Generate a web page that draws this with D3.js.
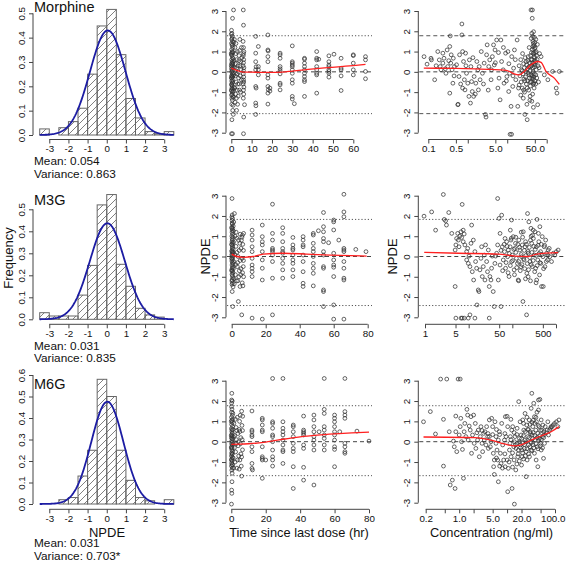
<!DOCTYPE html>
<html><head><meta charset="utf-8">
<script src="https://cdn.jsdelivr.net/npm/d3@7"></script>
<style>
body{margin:0;background:#fff}
svg{display:block}
text{font-family:"Liberation Sans",Arial,Helvetica,sans-serif;fill:#111}
</style>
</head><body><script>
// ---------------- DATA ----------------
const binEdges = [-3.5,-3,-2.5,-2,-1.5,-1,-0.5,0,0.5,1,1.5,2,2.5,3,3.5];
const morphHist = [0.025,0,0.03,0.055,0.11,0.25,0.448,0.516,0.33,0.15,0.07,0.014,0.005,0.014];
const m3gHist   = [0.03,0.015,0.015,0.015,0.11,0.245,0.52,0.567,0.25,0.15,0.05,0.02,0.01,0];
const m6gHist   = [0,0,0.02,0.03,0.13,0.25,0.58,0.50,0.25,0.11,0.03,0.015,0,0.02];
const drugNames = ["Morphine","M3G","M6G"];
const meanVals = [0.054,0.031,0.031];
const varVals  = [0.863,0.835,0.703];
const varLabels = ["Variance: 0.863","Variance: 0.835","Variance: 0.703*"];
const meanLabels = ["Mean: 0.054","Mean: 0.031","Mean: 0.031"];
const histXTicks = [-3,-2,-1,0,1,2,3];
const histYTicks = [[0,0.1,0.2,0.3,0.4,0.5],[0,0.1,0.2,0.3,0.4,0.5],[0,0.1,0.2,0.3,0.4,0.5,0.6]];
const npdeTicks = [-3,-2,-1,0,1,2,3];
const timeTicks = [[0,10,20,30,40,50,60],[0,20,40,60,80],[0,20,40,60,80]];
const concTicks = [[0.1,0.5,1,5,10,50,100],[1,5,10,50,100,500,1000],[0.2,0.5,1,2,5,10,20,50,100]];
const concTickLabels = [{0.1:"0.1",0.5:"0.5",5:"5.0",50:"50.0"},{1:"1",5:"5",50:"50",500:"500"},{0.2:"0.2",1:"1.0",5:"5.0",20:"20.0",100:"100.0"}];
const refBounds = [[1.78,-2.06],[1.83,-2.42],[1.77,-1.67]];

const morphTime = [
[0.1,2.05],[0.3,1.9],[0.5,1.75],[0.2,1.6],[0.6,1.5],[0.1,1.4],[0.4,1.3],[0.7,1.2],[0.2,1.1],[0.5,1.0],[0.8,0.95],[0.1,0.85],[0.3,0.8],[0.6,0.7],[0.9,0.65],[0.2,0.6],[0.4,0.5],[0.7,0.45],[0.1,0.4],[0.5,0.35],[0.3,0.25],[0.8,0.2],[0.1,0.15],[0.6,0.1],[0.4,0.05],[0.2,0.0],[0.9,-0.05],[0.5,-0.1],[0.1,-0.2],[0.7,-0.25],[0.3,-0.3],[0.6,-0.4],[0.2,-0.45],[0.8,-0.5],[0.4,-0.55],[0.1,-0.65],[0.5,-0.7],[0.3,-0.8],[0.7,-0.85],[0.2,-0.95],[0.6,-1.0],[0.4,-1.1],[0.1,-1.15],[0.8,-1.2],[0.3,-1.3],[0.5,-1.4],[0.2,-1.6],[0.9,-1.65],[0.6,2.64],[1.1,3.05],[0.1,-3.05],[0.6,-3.05],[0.3,-2.36],[1.0,-2.1],[0.7,-1.9],[0.0,1.85],[0.0,0.9],[0.0,0.3],[0.0,-0.3],[0.0,-0.9],[1.2,1.45],[1.3,0.55],[1.2,-0.15],[1.4,-0.75],[1.1,-1.25],[0.4,1.65],[0.6,1.35],[0.3,0.95],[0.8,0.4],[0.5,-0.2],[0.2,-0.6],[0.9,-0.95],
[1.8,1.2],[2.2,0.9],[2.6,0.6],[3.0,1.0],[3.3,0.3],[3.8,0.8],[4.2,1.6],[4.6,0.5],[5.0,1.2],[1.6,0.2],[2.0,-0.2],[2.4,-0.5],[2.8,-0.1],[3.2,-0.6],[3.6,-0.3],[4.0,-0.9],[4.4,-0.2],[4.8,0.1],[1.7,-0.8],[2.1,-1.1],[2.5,-1.3],[2.9,-0.9],[3.4,-1.2],[3.9,-0.6],[4.5,-1.0],[2.0,0.4],[2.7,0.2],[3.5,0.0],[4.3,0.3],[5.0,-0.4],[1.5,1.6],[2.3,1.4],[3.1,-1.6],[4.1,1.05],[5.2,0.7],[1.9,-1.5],[3.7,0.55],[2.6,-1.9],
[5.9,3.05],[6.0,2.3],[6.1,-2.23],[6.0,-3.05],[6.5,-1.62],[5.8,1.5],[6.0,1.2],[6.2,1.0],[5.9,0.8],[6.1,0.6],[6.0,0.45],[5.8,0.3],[6.2,0.2],[6.0,0.05],[5.9,-0.1],[6.1,-0.25],[6.0,-0.4],[5.8,-0.6],[6.2,-0.75],[6.0,-0.9],[6.1,-1.1],[5.9,-1.3],[6.0,0.9],[6.1,-0.5],
[12,1.75],[12,0.92],[12,0.5],[12.2,0.25],[12,0.1],[12,-0.72],[12.2,-0.8],[12,-1.54],[12.1,-1.67],[12,-2.1],[13.3,1.25],[13.3,0.26],[13.3,0.1],[13.3,-0.15],
[18,1.82],[18,1.08],[18.1,1.03],[18,0.75],[18,0.5],[18,-0.15],[18,-0.31],[18,-0.72],[18.2,-0.88],[18,-1.05],[18,-1.59],[19,-0.8],[19,-0.95],
[24,0.92],[24,0.84],[24,0.67],[24,0.26],[24,0.15],[24,0.05],[24,-0.1],[24,-0.56],[24,-0.64],[24,-0.89],
[30,1.28],[30,0.5],[30,0.43],[30,0.34],[30,0.26],[30,0.1],[30,-0.07],[30,-0.39],[30,-0.56],[30,-1.21],[30,-1.34],[31,-1.57],
[36,0.67],[36,0.62],[36,0.43],[36,0.26],[36,0.1],[36,-0.07],[36,-0.23],[36,-0.39],[36,-0.48],[36,-1.21],
[42,1.0],[42,0.67],[42,0.59],[42,0.26],[42,0.1],[42,-0.07],[42,-0.15],[42,-1.05],[43,0.62],
[48,0.79],[48,0.5],[48,0.34],[48,0.26],[48,0.1],[48,0.02],[48,-0.07],[48,-0.26],[50.5,0.87],
[54,0.67],[54,0.18],[54,0.1],[54,-0.2],[54,-0.92],
[60,0.84],[60,0.8],[60,0.43],[60,0.1],[60,-0.15],
[66,0.75],[66,0.59],[66,0.02],[66,-0.34]
];
const morphTimeLoess = [[0,0.18],[2,0.1],[4,0.03],[6,-0.01],[12,-0.02],[20,-0.03],[25,-0.01],[30,0.04],[36,0.1],[42,0.16],[48,0.21],[54,0.26],[60,0.31],[66,0.37]];

const morphConc = [
[0.078,0.75],[0.093,0.38],[0.117,0.67],[0.12,0.59],[0.145,-0.39],[0.158,0.3],[0.174,1.0],[0.19,0.59],[0.2,0.26],[0.21,0.1],[0.234,0.92],[0.234,0.43],[0.25,0.67],[0.28,-0.07],[0.3,1.08],[0.31,0.26],[0.35,1.25],[0.35,-1.05],[0.36,1.77],[0.37,0.43],[0.38,0.84],[0.4,0.1],[0.42,-0.56],[0.43,0.67],[0.46,0.26],[0.56,-1.62],[0.57,-1.6],[0.6,-0.23],[0.62,0.84],[0.71,2.36],[0.71,1.82],[0.74,1.0],[0.74,-0.8],[0.78,0.51],[0.82,-0.39],[0.85,-0.89],[0.88,0.92],[0.93,-0.07],[1.0,-0.56],[1.07,-1.21],[1.1,0.59],[1.17,-1.54],[1.2,0.26],[1.25,-0.48],[1.3,-0.97],[1.41,-1.21],[1.45,-0.23],[1.6,-0.56],[1.7,0.51],[1.8,0.1],[1.86,-0.89],[1.95,0.26],[2.05,-0.39],[2.2,1.0],[2.35,-0.07],[2.6,0.43],[2.8,-2.1],[2.9,-2.23],[3.0,0.84],[3.1,1.33],[3.4,0.26],[3.6,0.59],[3.9,-0.39],[4.2,0.75],[4.5,1.33],[4.7,0.34],[4.9,1.08],[5.4,1.57],[5.8,-0.8],[6.2,-0.31],[6.6,-1.38],[6.9,1.57],[7.2,0.51],[7.9,0.1],[8.3,-0.56],[9.1,0.92],[9.8,-0.23],[10.4,1.0],[10.9,-0.97],[11.5,-0.07],[11.8,-3.08],[12.9,-3.08],[12.5,-1.7],[13.0,0.75],[13.8,-0.72],[14.5,0.18],[15.2,1.08],[16.5,-0.39],[17.8,1.57],[18.5,-1.7],[19.3,-0.8],
[0.27,0.15],[0.33,0.55],[0.45,-0.2],[0.52,0.35],[0.66,-0.6],[0.9,0.3],[1.35,0.7],[1.55,-1.1],[2.5,-0.6],[3.3,-0.9],[4.0,0.1],[5.0,0.45],[6.0,0.95],[8.0,1.2],[9.5,-0.45],[11,0.4],[14,-0.2],[16,0.6],
[20,0.3],[21,-0.2],[22,0.6],[22.5,-0.5],[23,0.1],[24,-0.8],[24.5,0.9],[25,-0.1],[25.5,-1.3],[26,0.4],[26.5,-0.35],[27,0.2],[27.5,-1.0],[28,-2.1],[28.5,0.7],[29,-0.25],[30,0.0],[30.5,-0.6],[31,0.35],[31.5,-1.6],[32,-2.36],[32.5,0.15],[33,-0.45],[33.5,0.55],[34,-0.05],[35,-0.9],[35.5,0.25],[36,1.2],[36.5,-0.3],[37,0.45],[37.5,-1.4],[38,0.05],[38.5,-0.7],[39,0.8],[40,-0.15],[40.5,1.65],[41,0.3],[41.5,-0.5],[42,1.9],[42.5,0.6],[43,-0.2],[43.5,1.1],[44,-1.1],[44.5,0.2],[45,1.5],[45.5,-0.35],[46,0.9],[46.5,1.98],[47,0.4],[40,3.05],[48,1.3],[48.5,-0.1],[49,1.7],[49.5,0.7],[50,1.45],[43,2.64],[51,1.2],[43.5,3.05],[52,0.95],[52.5,-0.6],[53,1.6],[53.5,0.5],[54,1.0],[54.5,0.1],[55,0.8],[56,-0.3],[57,0.6],[58,1.35],[59,-1.62],[60,0.3],[62,-0.5],[64,0.2],[66,0.9],
[44,1.75],[45,1.25],[46,1.4],[47,0.95],[48,0.75],[49,1.15],[50,0.55],[45,0.0],[46,-0.6],[47,-0.25],[48,-0.8],[49,0.25],[50,-0.45],[36,-0.15],[38,-0.5],[40,0.6],[42,-0.3],[34,0.75],[32,-0.8],[30,0.5],[28,-0.45],[26,-0.9],[24,0.05],[22,-1.15],[20,-0.65],[38,-1.2],[42,-1.45],[46,-1.75],[51,0.35],[53,-0.15],[44,0.45],[47,-0.55],[41,0.95],[39,0.25],
[72,0.75],[87,-0.15],[107,-0.39],[141,0.02],[174,-0.8],[182,-1.05],[209,0.02]
];
const morphConcLoess = [[0.077,0.18],[0.5,0.17],[1.5,0.15],[4,0.12],[8.5,0.08],[12,0.0],[15,-0.1],[20,-0.15],[27,0.02],[40,0.35],[59,0.51],[72,0.47],[96,0.02],[158,-0.32],[209,-0.62]];

const m3gTime = [
[0.2,2.86],[0.3,2.05],[0.1,1.95],[0.5,1.88],[0.2,1.78],[0.4,1.6],[0.1,1.45],[0.6,1.38],[0.3,1.3],[0.2,1.2],[0.5,1.1],[0.1,1.0],[0.7,0.95],[0.3,0.88],[0.4,0.8],[0.2,0.72],[0.6,0.65],[0.1,0.58],[0.5,0.5],[0.3,0.42],[0.8,0.36],[0.2,0.3],[0.4,0.22],[0.6,0.15],[0.1,0.1],[0.3,0.04],[0.7,-0.02],[0.2,-0.08],[0.5,-0.15],[0.1,-0.22],[0.4,-0.3],[0.8,-0.36],[0.2,-0.42],[0.6,-0.5],[0.3,-0.58],[0.1,-0.66],[0.5,-0.72],[0.7,-0.8],[0.2,-0.88],[0.4,-0.95],[0.6,-1.05],[0.3,-1.15],[0.1,-1.2],[0.5,-1.3],[0.2,-1.38],[0.3,-1.73],[0.6,-2.47],[1.6,2.12],[1.2,1.7],[1.0,1.25],[1.1,0.7],[0.9,0.2],[1.2,-0.25],[1.0,-0.6],[1.3,-1.1],[0.9,1.5],[0.8,-1.5],[0.0,1.4],[0.0,0.6],[0.0,-0.1],[0.0,-0.7],[0.0,0.25],[0.3,1.65],
[2,1.0],[2.5,0.5],[3,0.2],[3.5,-0.3],[4,0.8],[4.5,-0.7],[5,1.1],[5.5,0.4],[6,-0.1],[6.5,0.6],[7,1.14],[2.2,-0.9],[2.8,-1.2],[3.3,-0.5],[3.9,-2.22],[4.2,-1.0],[4.9,-1.48],[5.3,-0.9],[5.9,-2.88],[6.2,-1.3],[6.8,-0.5],[1.8,0.1],[2.4,-0.4],[3.1,0.9],[3.7,0.0],[4.4,0.3],[5.0,-0.2],[5.7,0.8],[6.3,1.05],[6.9,-0.2],[6.6,-1.45],[6.9,0.3],[1.5,-1.35],[2.6,1.2],[4.8,0.65],[5.5,-0.6],[6.0,0.95],[3.6,-1.2],[6.4,-0.8],[7,-1.0],
[12,1.3],[12,1.06],[12,0.81],[12,0.48],[12,0.24],[12,-0.09],[12,-0.42],[12,-0.58],[12,-0.75],[12,-0.99],[12,-3.04],
[18,1.55],[18,0.98],[18,0.73],[18,0.57],[18,0.24],[18,-0.17],[18,-0.58],[18,-1.16],[18,-3.09],
[24,2.58],[24,1.14],[24,0.81],[24,0.4],[24,0.32],[24,0.24],[24,0.07],[24,-0.25],[24,-1.07],[24,-2.88],
[30,1.42],[30,1.14],[30,0.73],[30,0.4],[30,0.24],[30,0.16],[30,-0.09],[30,-0.34],[30,-0.66],[30,-1.07],
[36,0.94],[36,0.57],[36,0.4],[36,0.32],[36,0.07],[36,-0.17],[36,-0.34],[36,-0.66],[36,-0.99],
[42,0.98],[42,0.81],[42,0.57],[42,0.48],[42,0.07],[42,-0.25],[42,-0.75],[42,-1.32],[42,-1.48],
[48,1.14],[48,1.06],[48,0.65],[48,0.4],[48,0.24],[48,0],[48,-0.34],[48,-0.58],[48,-0.83],[48,-1.45],[51,1.27],
[54,2.17],[54,1.47],[54,1.22],[54,0.89],[54,0.73],[54,0.24],[54,0.07],[54,-0.5],[54,-0.58],[54,-1.65],[54,-1.73],[54,-2.47],[57,0.68],
[60,1.8],[60,1.71],[60,1.31],[60,0.16],[60,-0.17],[60,-0.42],[60,-0.53],[60,-0.99],[60,-2.39],[60,-3.09],[63,0.81],
[66,3.07],[66,2.2],[66,1.96],[66,0.4],[66,0.32],[66,0.24],[66,-0.25],[66,-0.58],[66,-1.07],[66,-1.16],[66,-3.09],
[73,0.35],[79,0.24]
];
const m3gTimeLoess = [[0,0.12],[3,0.0],[7,-0.04],[12.7,0.0],[18.6,0.12],[30,0.16],[44,0.12],[58,0.07],[79.4,0.02]];

const m3gConc = [
[0.95,1.99],[1.42,2.2],[1.75,1.3],[2.63,3.06],[2.77,1.83],[2.97,1.76],[3.1,1.55],[3.5,2.17],[4.1,1.14],[4.9,-1.48],[4.9,0.32],[5.1,0.57],[5.3,0.89],[5.6,1.14],[5.8,0.81],[6.0,0.48],[6.3,1.01],[6.7,1.22],[6.9,0.94],[7.1,2.57],[7.5,1.3],[7.5,0.73],[7.9,1.11],[8.2,0.57],[9.0,0.24],[9.0,-0.17],[9.5,0.4],[9.8,-0.34],[10.2,0.02],[10.7,-0.5],[11.3,0.65],[11.7,1.55],[12.1,-0.75],[12.8,0.81],[13,-1.16],[13.9,0.24],[14.4,-0.25],[15.2,-0.58],[15.5,-2.39],[16.6,-1.65],[17.2,-1.73],[18.1,-0.66],[19.1,-0.09],[19.8,0.48],[20.5,-0.99],[21.6,-0.5],[22.8,0.07],[23.6,-1.16],[24.4,0.57],[25.8,-0.25],[27,-0.75],[28.2,0.32],[29.6,-1.48],[30.7,-0.99],[32.4,-1.16],[33.5,-0.58],[34.7,0.02],[36.5,-1.73],[38.5,-2.47],[39.9,-0.34],[41.4,0.02],[43.7,0.16],[46.1,2.86],[46.1,0.57],[47.8,-1.16],[49.6,1.88],[52.3,1.14],[52.3,-0.42],[55,-2.47],[57,2.04],[59,0.48],[62,-0.17],[66,0.24],[68,0.89],[70,-0.58],[74,0.73],[78,-0.01],[81,0.32],[84,-0.99],[89,0.48],[93,0.81],[96,1.8],[96,-0.25],[100,0.07],[105,0.98],[110,-0.66],[114,0.4],[118,0.65],[124,-0.09],[131,-0.34],[136,-1.16],[141,0.81],[149,0.32],[157,-0.5],[163,-0.01],[169,0.57],[175,-2.22],[178,1.22],[185,-0.17],[195,0.48],[201,0.73],[212,-2.88],[215,-0.83],[223,2.12],[231,0.16],[239,1.71],[253,-0.25],[267,1.39],[277,0.65],[287,-0.5],[303,0.89],[318,0.07],[330,1.22],[342,-0.58],[355,0.48],[361,-1.16],[368,1.83],[382,-0.17],[396,1.14],[404,0.73],[420,-0.91],[427,1.47],[443,0.24],[450,-0.34],[466,-1.48],[484,0.98],[502,-0.01],[510,-1.48],[537,0.48],[558,-0.5],[580,0.81],[610,0.16],[640,-0.17],[660,0.32],[720,-0.01],[790,-0.25],[870,0.16],[940,0.07],[1020,0.24],[1120,0.32],
[5.1,-3.04],[6.7,-3.04],[7.1,-3.04],[7.9,-3.04],[9.8,-3.04],[13.9,-3.04],[29.6,-3.04],[10.7,-2.88],
[55,0.3],[60,-0.7],[65,0.6],[72,-0.3],[76,0.5],[80,-0.8],[85,0.15],[90,-0.45],[95,0.9],[102,-0.2],[108,0.35],[112,-0.9],[120,0.2],[126,-0.55],[133,0.6],[140,-0.25],[146,0.45],[152,-0.7],[160,0.1],[166,-0.4],[172,0.95],[180,-0.1],[188,0.3],[192,-0.6],[205,0.05],[210,0.6],[220,-0.35],[228,0.25],[235,-0.65],[245,0.45],[250,-0.05],[260,0.8],[270,-0.4],[280,0.2],[290,1.05],[300,-0.2],[310,0.5],[325,-0.75],[335,0.35],[350,0.05],[370,-0.45],[390,0.55],[410,0.15],[430,-0.3],[460,0.6],[480,0.1],[520,-0.6],[550,0.55],[600,-0.25],[650,0.05],[700,0.4],[230,-1.0],[260,-1.2],[300,1.3],[200,-1.1],[160,1.2],[350,-1.3],[140,-1.2],[120,0.95],[90,1.3],[270,1.0]
];
const m3gConcLoess = [[0.96,0.2],[5.8,0.16],[48,0.12],[115,0.02],[230,0.0],[360,0.12],[1120,0.19]];

const m6gTime = [
[0.3,2.38],[0.2,2.05],[0.5,2.0],[0.1,1.72],[0.4,1.6],[0.2,1.45],[0.6,1.3],[0.1,1.2],[0.3,1.05],[0.5,0.95],[0.2,0.85],[0.7,0.75],[0.1,0.65],[0.4,0.58],[0.3,0.5],[0.6,0.42],[0.2,0.35],[0.5,0.28],[0.1,0.2],[0.8,0.12],[0.3,0.05],[0.4,-0.02],[0.2,-0.1],[0.6,-0.18],[0.1,-0.25],[0.5,-0.32],[0.3,-0.4],[0.7,-0.48],[0.2,-0.55],[0.4,-0.62],[0.1,-0.7],[0.6,-0.78],[0.3,-0.85],[0.5,-0.95],[0.2,-1.05],[0.4,-1.12],[0.1,-1.2],[0.6,-1.3],[0.3,-1.4],[0.5,-1.55],[0.4,-1.97],[0.2,-2.38],[0.3,-2.54],[0.1,-3.07],[0.0,1.0],[0.0,0.3],[0.0,-0.3],[0.0,-0.9],[0.9,0.6],[1.0,-0.1],[1.1,-0.8],[0.9,1.4],[1.2,0.25],[0.8,-1.15],[0.2,1.9],[0.7,1.1],[0.4,0.15],[0.6,-0.6],
[1.5,0.9],[2,0.3],[2.5,-0.5],[3,0.1],[3.5,1.2],[4,-0.2],[4.5,0.6],[5,-0.9],[5.5,0.2],[6,1.5],[6.5,-0.4],[2.2,-1.0],[2.8,0.7],[3.3,-1.3],[3.8,0.4],[4.3,-0.7],[4.8,1.0],[5.3,-0.1],[5.8,-1.2],[6.2,0.8],[6.0,-1.69],[1.8,-0.3],[2.4,1.1],[3.6,-0.9],[4.1,0.0],[5.0,0.5],[5.6,-0.6],[6.3,0.1],[6.6,1.25],[1.3,-1.3],[2.9,-0.1],[4.6,-1.35],[6.0,-0.75],[6.5,0.55],[3.2,0.55],[5.2,1.3],
[12,1.51],[12,0.57],[12,0.49],[12,0.33],[12,0.25],[12,-0.25],[12,-0.49],[12,-1.07],[12,-1.31],[12.3,-1.39],
[18,1.15],[18,1.07],[18,0.82],[18,0.57],[18,0.49],[18,-0.25],[18,-0.74],[18,-0.82],[18,-0.9],[18,-1.8],[20,-0.9],
[24,3.11],[24,0.98],[24,0.9],[24,0.66],[24,0.33],[24,0.25],[24,0],[24,-0.41],[24,-0.74],[24,-0.9],[24,-1.2],
[30,3.11],[30,0.98],[30,0.66],[30,0.49],[30,0.33],[30,0.08],[30,-0.16],[30,-0.41],[30,-0.49],[30,-1.07],
[36,0.82],[36,0.74],[36,0.49],[36,0.25],[36,-0.08],[36,-0.33],[36,-0.49],[36,-1.23],[36,-2.3],
[42,1.26],[42,0.57],[42,0.49],[42,0.41],[42,0.33],[42,-0.16],[42,-0.33],[42,-1.26],[42,-1.89],
[48,1.31],[48,1.07],[48,0.74],[48,0.49],[48,0.25],[48,0.08],[48,-0.16],[48,-0.41],[48,-2.13],[51,0.49],
[54,3.11],[54,1.59],[54,1.39],[54,0.74],[54,0.57],[54,0.33],[54,0.16],[54,-0.16],[54,-0.41],
[60,1.31],[60,1.15],[60,0.98],[60,0.74],[60,0.49],[60,0.33],[60,0.08],[60,-0.25],[60,-0.38],[60,-1.23],[63,0.49],
[66,3.11],[66,1.48],[66,1.31],[66,1.15],[66,-0.08],[66,-0.25],[66,-0.49],[66,-0.57],
[73,0.52],[80,0.03]
];
const m6gTimeLoess = [[0,-0.13],[5,-0.12],[10,-0.1],[15,-0.07],[20,-0.02],[25,0.05],[30,0.12],[40,0.24],[50,0.32],[60,0.38],[70,0.43],[80,0.47]];

const m6gConc = [
[0.18,0.98],[0.25,1.48],[0.32,0.38],[0.41,3.08],[0.47,1.1],[0.47,-1.2],[0.55,3.08],[0.62,0.49],[0.65,-2.13],[0.72,-1.89],[0.76,0.03],[0.79,-0.25],[0.82,-2.3],[0.85,1.26],[0.85,0.49],[0.89,-0.49],[0.95,3.08],[1.05,3.08],[1.0,0.33],[1.05,0.74],[1.08,1.15],[1.12,0],[1.17,-0.38],[1.23,-1.8],[1.27,0.49],[1.31,0.9],[1.38,0.25],[1.45,1.59],[1.5,1.31],[1.54,0.08],[1.62,0.77],[1.7,0.57],[1.76,1.23],[1.81,-0.57],[1.9,0.33],[2.0,1.31],[2.06,-0.08],[2.17,0.9],[2.23,-0.33],[2.34,0.44],[2.42,0.08],[2.5,0.57],[2.63,-0.74],[2.76,0.25],[2.85,0.74],[3.0,-0.08],[3.09,-0.49],[3.24,0.41],[3.34,0.08],[3.45,0.49],[3.62,-0.16],[3.74,0.74],[3.93,0.25],[4.06,-0.33],[4.26,1.07],[4.26,0.25],[4.47,-0.25],[4.61,0],[4.76,1.15],[5.0,0.74],[5.16,-0.57],[5.24,-1.23],[5.41,-1.61],[5.41,-0.9],[5.59,0.98],[5.87,-0.08],[5.87,0.25],[6.16,-0.41],[6.36,-0.9],[6.57,0.08],[6.57,-1.97],[6.9,0.49],[7.24,-0.57],[7.47,-1.07],[7.72,0.9],[8.1,-0.16],[8.5,-0.9],[8.8,0.08],[9.1,-1.23],[9.2,1.23],[9.5,0.25],[10,-0.9],[10.3,-2.46],[10.3,0.74],[10.6,-1.31],[11.2,-0.41],[11.5,-0.08],[11.7,0.25],[12.1,-0.74],[12.5,0.57],[12.7,-2.3],[13.1,0.74],[13.8,-0.25],[14.2,-3.07],[14.2,0],[14.7,0.25],[15.2,-1.39],[15.4,-0.33],[16.2,-0.08],[16.2,0.66],[16.7,-0.74],[17.2,-0.41],[17.5,1.97],[18.1,0.16],[18.7,0.98],[19,-0.16],[19.6,0.33],[20.3,-0.41],[20.6,-0.74],[21.2,1.07],[21.2,-0.08],[22.3,0.57],[23,-0.33],[23.7,0.08],[23.7,1.39],[25,-0.49],[25,-1.72],[25.8,0.82],[26.2,-0.9],[27,0.25],[28,-0.16],[28.9,1.07],[29.3,-0.74],[30.3,0.49],[30.8,0],[31.8,-0.41],[31.8,1.64],[32.8,2.38],[33.3,0.33],[34.4,0.74],[34.9,-0.16],[36,1.89],[37.2,1.23],[37.2,-0.57],[38.5,0.08],[39.7,0.57],[40.4,-0.9],[41,0.98],[42.4,-0.25],[43.8,0.41],[43.8,-1.23],[45.2,2.05],[45.2,1.56],[46.7,0.74],[47.5,0.16],[48.3,2.08],[49.9,-0.08],[51.5,1.07],[51.5,-0.41],[53.2,0.57],[55,0.25],[55.8,0.82],[57.6,-0.82],[58.5,0.49],[60.4,-0.08],[62.4,0.74],[65.4,0.44],[68.6,0.57],[70.9,0.98],[73.2,0.33],[76.7,0.57],[80.5,0.66],[83,0.74],[87,0.74],[91.6,0.82],[98,0.9],[107,0.98],[115,0.74],[121,1.07],
[12,0.1],[13,-0.55],[14,0.45],[15,-0.15],[16,0.35],[17,-0.6],[18,0.0],[19,-0.3],[20,0.15],[21,-0.55],[22,0.3],[23,-0.15],[24,0.5],[25,0.0],[26,-0.35],[27,0.6],[28,-0.6],[29,0.2],[30,-0.25],[31,0.4],[32,-0.05],[33,-0.45],[34,0.15],[35,0.45],[36,-0.3],[38,0.3],[40,-0.1],[42,0.2],[44,-0.35],[46,0.05],[48,0.3],[50,-0.2],[52,0.1],[55,-0.3],[58,0.2],[60,0.35],[14,-0.9],[16,-1.1],[18,-0.95],[20,-1.15],[22,-0.85],[11,-1.0],[9,-0.6],[8,-1.3],[7,-1.2],[6,-0.8],[13,-1.25],[24,-0.7],[30,0.85],[35,1.05],[40,1.2],[42,1.45],[38,0.9],[26,1.2],[22,0.9],[28,0.6],[33,0.95],[45,0.8],[50,0.55],[12,1.1],[10,1.25],[9,0.4],[7,0.35],[6,0.6],[5,0.35],[4,0.4],[3,0.55]
];
const m6gConcLoess = [[0.18,0.23],[2.1,0.2],[4.6,0.08],[8.8,-0.11],[14.2,-0.21],[19.6,-0.16],[32,0.08],[51,0.28],[83,0.49],[121,0.74]];

// ---------------- LAYOUT ----------------
const W = 567, H = 562;
const FONT = '"Liberation Sans",Arial,Helvetica,sans-serif';
const AX = "#444";
const TICKFS = 9.8;
const rows = [
  {hy0:135, hyTop:13.3, hyTopVal:0.5, axY:139.5, sy3:11, syM3:132.7, titleY:12, meanY:165, varY:177.5},
  {hy0:319.3, hyTop:209.3, hyTopVal:0.5, axY:324.3, sy3:195.7, syM3:317.3, titleY:205, meanY:349.5, varY:362},
  {hy0:504, hyTop:375, hyTopVal:0.6, axY:509.3, sy3:380.7, syM3:502.7, titleY:388.5, meanY:547.3, varY:560.3}
];
const timeRanges = [[0,60,231.3,353.3],[0,80,231.7,367.7],[0,80,231.3,369]];
const concRanges = [[0.1,100,428.3,546.7],[1,1000,425,556],[0.2,100,425.7,555]];
const histData = [morphHist, m3gHist, m6gHist];
const timeData = [morphTime, m3gTime, m6gTime];
const timeLoess = [morphTimeLoess, m3gTimeLoess, m6gTimeLoess];
const concData = [morphConc, m3gConc, m6gConc];
const concLoess = [morphConcLoess, m3gConcLoess, m6gConcLoess];

const svg = d3.select("body").append("svg").attr("width", W).attr("height", H).attr("viewBox", `0 0 ${W} ${H}`);
svg.append("rect").attr("width", W).attr("height", H).attr("fill", "#fff");
const defs = svg.append("defs");
const pat = defs.append("pattern").attr("id", "hatch").attr("patternUnits", "userSpaceOnUse").attr("width", 7).attr("height", 7);
pat.append("path").attr("d", "M-1,1 L1,-1 M0,7 L7,0 M6,8 L8,6").attr("stroke", "#555").attr("stroke-width", 0.75).attr("fill", "none");

const minusFix = f => d => f(d).replace("\u2212", "-");

function bottomAxis(g, scale, ticks, fmt, y) {
  const a = d3.axisBottom(scale).tickValues(ticks).tickSize(4).tickSizeOuter(0).tickFormat(fmt);
  const ag = g.append("g").attr("transform", `translate(0,${y})`).call(a);
  ag.select(".domain").remove();
  ag.append("line").attr("x1", scale(ticks[0])).attr("x2", scale(ticks[ticks.length-1])).attr("stroke", AX).attr("stroke-width", 1);
  ag.selectAll(".tick line").attr("stroke", AX);
  ag.selectAll(".tick text").attr("y", 5.5).attr("dy", "0.71em").attr("font-size", TICKFS).attr("font-family", FONT).attr("fill", "#222");
  return ag;
}
function leftAxis(g, scale, ticks, fmt, x) {
  const a = d3.axisLeft(scale).tickValues(ticks).tickSize(4).tickSizeOuter(0).tickFormat(fmt);
  const ag = g.append("g").attr("transform", `translate(${x},0)`).call(a);
  ag.select(".domain").remove();
  ag.append("line").attr("y1", scale(ticks[0])).attr("y2", scale(ticks[ticks.length-1])).attr("stroke", AX).attr("stroke-width", 1);
  ag.selectAll(".tick line").attr("stroke", AX);
  ag.selectAll(".tick text").attr("x", null).attr("dy", null)
    .attr("transform", "translate(-8.5,0) rotate(-90)")
    .attr("text-anchor", "middle").attr("font-size", TICKFS).attr("font-family", FONT).attr("fill", "#222");
  return ag;
}

// ---------------- HISTOGRAMS ----------------
const hx = d3.scaleLinear().domain([-3.5, 3.5]).range([39.7, 173.8]);
rows.forEach((r, i) => {
  const g = svg.append("g");
  const hy = d3.scaleLinear().domain([0, r.hyTopVal]).range([r.hy0, r.hyTop]);
  const heights = histData[i];
  const bins = heights.map((h, k) => ({x0: binEdges[k], x1: binEdges[k+1], h}));
  g.selectAll("rect.bar").data(bins).join("rect").attr("class","bar")
    .attr("x", d => hx(d.x0)).attr("width", d => hx(d.x1) - hx(d.x0))
    .attr("y", d => hy(d.h)).attr("height", d => hy(0) - hy(d.h))
    .attr("fill", "url(#hatch)").attr("stroke", "#666").attr("stroke-width", 1);
  // normal density built from the mean / variance printed under the panel
  const mu = meanVals[i], sd = Math.sqrt(varVals[i]);
  const xs = d3.range(-3.5, 3.5001, 0.05);
  const curve = xs.map(x => [x, Math.exp(-0.5 * ((x - mu) / sd) ** 2) / (sd * Math.sqrt(2 * Math.PI))]);
  g.append("path").datum(curve)
    .attr("d", d3.line().x(d => hx(d[0])).y(d => hy(d[1])))
    .attr("fill", "none").attr("stroke", "#1c1ca3").attr("stroke-width", 1.8);
  bottomAxis(g, hx, histXTicks, minusFix(d3.format("d")), r.axY);
  leftAxis(g, hy, histYTicks[i], d3.format(".1f"), 33);
  g.append("text").attr("x", 34).attr("y", r.titleY).attr("font-size", 14.5).text(drugNames[i]);
  g.append("text").attr("x", 34).attr("y", r.meanY).attr("font-size", 11.8).text(meanLabels[i]);
  g.append("text").attr("x", 34).attr("y", r.varY).attr("font-size", 11.8).text(varLabels[i]);
});

// ---------------- SCATTERS ----------------
function scatter(g, data, loess, xs, ys, axisX, right, refs, refDash, axY, xTicks, xFmt) {
  const refG = g.append("g");
  refs.forEach(v => {
    refG.append("line").attr("x1", axisX + 1).attr("x2", right).attr("y1", ys(v)).attr("y2", ys(v))
      .attr("stroke", "#555").attr("stroke-width", 1).attr("stroke-dasharray", refDash);
  });
  refG.append("line").attr("x1", axisX + 1).attr("x2", right).attr("y1", ys(0)).attr("y2", ys(0))
    .attr("stroke", "#444").attr("stroke-width", 1).attr("stroke-dasharray", "4,3");
  g.append("g").selectAll("circle").data(data).join("circle")
    .attr("cx", d => xs(d[0])).attr("cy", d => ys(d[1])).attr("r", 1.9)
    .attr("fill", "none").attr("stroke", "#333").attr("stroke-width", 0.75);
  g.append("path").datum(loess)
    .attr("d", d3.line().x(d => xs(d[0])).y(d => ys(d[1])).curve(d3.curveMonotoneX))
    .attr("fill", "none").attr("stroke", "#ff2020").attr("stroke-width", 1.3);
  const ax = bottomAxis(g, xs, xTicks, xFmt, axY);
  leftAxis(g, ys, npdeTicks, minusFix(d3.format("d")), axisX);
  return ax;
}

rows.forEach((r, i) => {
  const ys = d3.scaleLinear().domain([3, -3]).range([r.sy3, r.syM3]);
  const tr = timeRanges[i];
  const xt = d3.scaleLinear().domain([tr[0], tr[1]]).range([tr[2], tr[3]]);
  scatter(svg.append("g"), timeData[i], timeLoess[i], xt, ys, 226, 372, refBounds[i], "1.2,2", r.axY, timeTicks[i], d3.format("d"));
  const cr = concRanges[i];
  const xc = d3.scaleLog().domain([cr[0], cr[1]]).range([cr[2], cr[3]]);
  const lab = concTickLabels[i];
  const ax = scatter(svg.append("g"), concData[i], concLoess[i], xc, ys, 418.3, 565, refBounds[i], i === 0 ? "4,3" : "1.2,2", r.axY, concTicks[i], d => (lab[d] !== undefined ? lab[d] : ""));
  // keep the right-most label inside the picture
  ax.selectAll(".tick text").each(function () {
    const b = this.getBBox();
    const tx = d3.select(this.parentNode).attr("transform");
    const m = /translate\(([-\d.]+)/.exec(tx);
    const gx = m ? +m[1] : 0;
    const rightEdge = gx + b.x + b.width;
    if (rightEdge > W - 1) d3.select(this).attr("x", (W - 1) - rightEdge);
  });
});

// ---------------- AXIS TITLES ----------------
svg.append("text").attr("transform", "translate(13,258) rotate(-90)").attr("text-anchor", "middle").attr("font-size", 13).text("Frequency");
svg.append("text").attr("transform", "translate(209.5,256.5) rotate(-90)").attr("text-anchor", "middle").attr("font-size", 13).text("NPDE");
svg.append("text").attr("transform", "translate(396.5,256.5) rotate(-90)").attr("text-anchor", "middle").attr("font-size", 13).text("NPDE");
svg.append("text").attr("x", 107).attr("y", 537).attr("text-anchor", "middle").attr("font-size", 13).text("NPDE");
svg.append("text").attr("x", 299).attr("y", 537).attr("text-anchor", "middle").attr("font-size", 12.8).text("Time since last dose (hr)");
svg.append("text").attr("x", 491.5).attr("y", 537).attr("text-anchor", "middle").attr("font-size", 12.8).text("Concentration (ng/ml)");
</script></body></html>
